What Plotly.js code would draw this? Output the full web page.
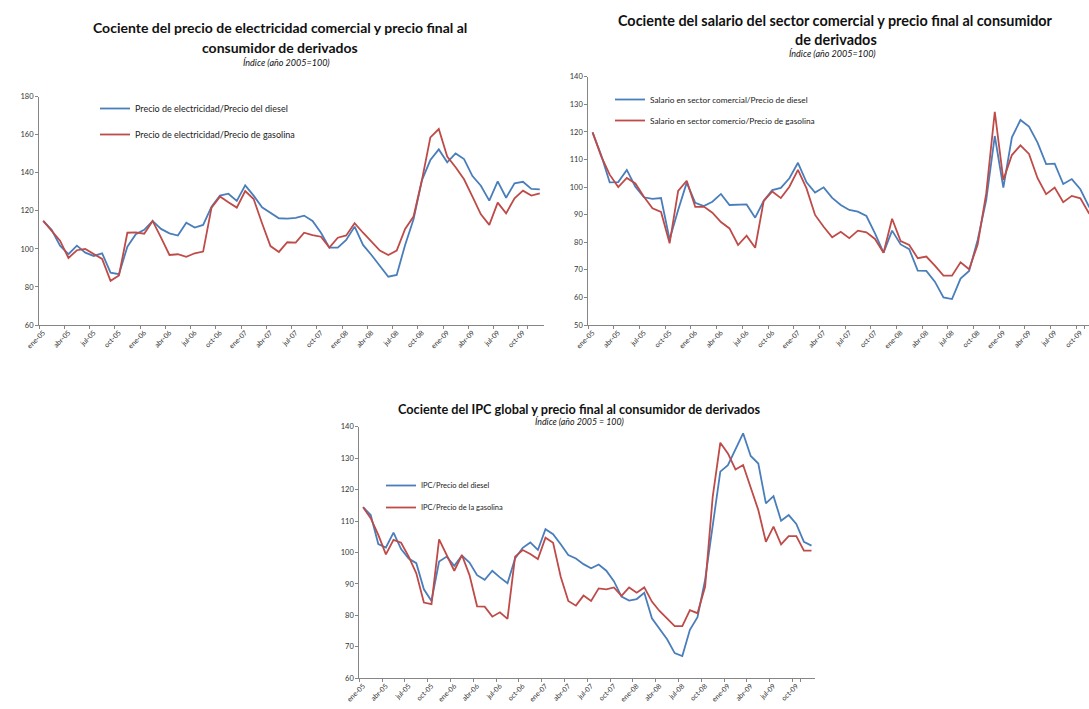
<!DOCTYPE html>
<html>
<head>
<meta charset="utf-8">
<script src="https://cdn.plot.ly/plotly-3.0.1.min.js"></script>
<style>
html,body{margin:0;padding:0;background:#fff;}
#chart{width:1089px;height:709px;}
</style>
</head>
<body>
<div id="chart"></div>
<script>
const months = [
 "ene-05","feb-05","mar-05","abr-05","may-05","jun-05","jul-05","ago-05","sep-05","oct-05","nov-05","dic-05",
 "ene-06","feb-06","mar-06","abr-06","may-06","jun-06","jul-06","ago-06","sep-06","oct-06","nov-06","dic-06",
 "ene-07","feb-07","mar-07","abr-07","may-07","jun-07","jul-07","ago-07","sep-07","oct-07","nov-07","dic-07",
 "ene-08","feb-08","mar-08","abr-08","may-08","jun-08","jul-08","ago-08","sep-08","oct-08","nov-08","dic-08",
 "ene-09","feb-09","mar-09","abr-09","may-09","jun-09","jul-09","ago-09","sep-09","oct-09","nov-09","dic-09"
];
const tickLabels = ["ene-05","abr-05","jul-05","oct-05","ene-06","abr-06","jul-06","oct-06","ene-07","abr-07",
 "jul-07","oct-07","ene-08","abr-08","jul-08","oct-08","ene-09","abr-09","jul-09","oct-09"];

// Chart 1: electricidad comercial
const elecDiesel = [114.7,110,101.7,97.2,101.7,98,96.3,97.7,87.5,86.7,101.2,107.7,
 110,114.7,110.5,108.2,107,113.8,111.2,112.6,122.2,128,129,125.2,
 133.4,128,121.9,119,116.1,115.9,116.3,117.5,114.7,108.5,100.7,100.7,
 104.7,111.7,102.1,96.8,91.2,85.4,86.3,102.1,115.6,136.2,146.7,152.3,
 145.5,150.2,147.2,138.3,133.2,125.4,135.5,126.9,134.5,135.3,131.5,131.3];
const elecGasolina = [114.7,109.4,104.3,95.2,99.3,100,97.3,94.7,83.2,86,108.5,108.7,
 108,114.7,105.9,96.8,97.2,95.8,97.7,98.6,121.7,127.5,124.5,121.7,
 130.4,126.2,113.5,101.5,98.4,103.5,103.3,108.5,107.3,106.4,100.7,105.9,
 107.1,113.5,108.5,103.5,99.1,96.8,99.1,110.5,117,136.2,158.6,163,
 148.5,142.9,136.6,127.5,118.2,112.6,124.3,118.7,126.6,130.6,128,129.2];

// Chart 2: salario sector comercial
const salDiesel = [119.8,111.6,101.7,101.8,106.2,100.1,96.3,95.7,96,81,91.7,101.6,
 94.3,93.1,94.7,97.5,93.5,93.7,93.7,88.9,95,98.9,99.7,103.2,
 108.8,101.7,98,99.9,96.1,93.5,91.7,91.1,89.5,83.2,76.2,84.2,
 79.2,77.5,69.7,69.6,65.7,60,59.4,66.8,69.6,80.8,95.3,118.5,
 99.8,118,124.3,121.9,116.1,108.3,108.5,101.1,102.9,99.2,92.9,88.5];
const salGasolina = [119.8,111.2,104.5,100,103.3,101.3,96.5,92.3,91,79.6,98.6,102.3,
 92.8,92.9,90.7,87.3,85,79,82.4,78,95,98.4,96,100.1,
 106.2,99.5,89.9,85.6,81.8,83.8,81.5,84.2,83.6,81.2,76.2,88.5,
 80.4,79,74.2,74.8,71.5,67.9,67.9,72.7,70.2,79.2,97.7,127.3,
 102.6,111.6,115.1,112,103.2,97.4,99.8,94.5,96.8,95.9,90.5,88];

// Chart 3: IPC global
const ipcDiesel = [114.4,111.9,102.7,101.6,106.3,101.1,98.1,96.6,88.3,84.6,97.1,98.7,
 95.8,99,96.8,92.8,91.3,94.2,92.1,90.2,98.1,101.5,103.2,100.8,
 107.4,105.8,102.6,99.2,98.1,96.3,95,96.2,94.2,90.9,86,84.7,
 85.2,87.2,79.1,75.6,72.4,68,67.1,75.4,79.4,91.3,108.4,125.7,
 127.8,133.1,137.9,130.7,128.3,115.6,117.9,110.1,111.9,109.1,103.4,102.2];
const ipcGasolina = [114.4,110.9,105.6,99.4,104,103.1,98.7,93.4,84.1,83.6,104.2,99.2,
 94.2,99.2,92.8,82.9,82.8,79.6,81,78.9,98.7,100.8,99.5,97.9,
 104.7,103.1,92.3,84.6,83.1,86.3,84.6,88.6,88.3,88.9,86.2,88.9,
 87.2,88.9,84.4,81.4,78.9,76.6,76.6,81.7,80.7,89.1,117.7,134.9,
 131.5,126.4,127.8,120.4,113.5,103.4,108.2,102.6,105.2,105.2,100.6,100.6];

const BLUE = "#4a7ebb", RED = "#be4b48";
const FONT = "Lato, 'Liberation Sans', sans-serif";
const W = 1089, H = 709;
const px = v => v / W, py = v => 1 - v / H;

function tr(y, name, color, xa, ya, leg, grp) {
  return {x: months, y: y, name: name, type: "scatter", mode: "lines",
    line: {color: color, width: 1.8}, xaxis: xa, yaxis: ya, legend: leg,
    legendgroup: grp, showlegend: true};
}

const data = [
  tr(elecDiesel, "Precio de electricidad/Precio del diesel", BLUE, "x", "y", "legend", "a1"),
  tr(elecGasolina, "Precio de electricidad/Precio de gasolina", RED, "x", "y", "legend", "b1"),
  tr(salDiesel, "Salario en sector comercial/Precio de diesel", BLUE, "x2", "y2", "legend2", "a2"),
  tr(salGasolina, "Salario en sector comercio/Precio de gasolina", RED, "x2", "y2", "legend2", "b2"),
  tr(ipcDiesel, "IPC/Precio del diesel", BLUE, "x3", "y3", "legend3", "a3"),
  tr(ipcGasolina, "IPC/Precio de la gasolina", RED, "x3", "y3", "legend3", "b3")
];

function xaxis(domain, anchor, rmax) {
  return {domain: domain, anchor: anchor, type: "category", categoryorder: "array", categoryarray: months,
    range: [-0.5, rmax], tickmode: "array", tickvals: tickLabels, ticktext: tickLabels,
    tickangle: -45, tickson: "boundaries", ticks: "outside", ticklen: 3, tickcolor: "#868686",
    showline: true, linecolor: "#868686", linewidth: 1, showgrid: false, zeroline: false,
    tickfont: {family: FONT, size: 7, color: "#333"}, fixedrange: true};
}
function yaxis(domain, anchor, range, dtick) {
  return {domain: domain, anchor: anchor, range: range, dtick: dtick, tick0: 0, ticks: "outside", ticklen: 3,
    tickcolor: "#868686", showline: true, linecolor: "#868686", linewidth: 1, showgrid: false,
    zeroline: false, tickfont: {family: FONT, size: 7.5, color: "#333"}, fixedrange: true};
}
function legend(x, y, gap, size) {
  return {x: x, y: y, xanchor: "left", yanchor: "top", bgcolor: "rgba(0,0,0,0)",
    font: {family: FONT, size: size, color: "#222"}, traceorder: "grouped", tracegroupgap: gap,
    itemwidth: 30};
}

function title(x, y, text, size, italic) {
  return {xref: "paper", yref: "paper", x: px(x), y: py(y), xanchor: "center", yanchor: "middle",
    text: text, showarrow: false,
    font: {family: FONT, size: size, color: "#111", style: italic ? "italic" : "normal",
      weight: italic ? 400 : 700}};
}

const layout = {
  width: W, height: H, margin: {l: 0, r: 0, t: 0, b: 0},
  paper_bgcolor: "#fff", plot_bgcolor: "#fff", showlegend: true,
  xaxis: xaxis([px(39), px(544)], "y", 59.5),
  yaxis: yaxis([py(325), py(96.7)], "x", [60, 180], 20),
  xaxis2: xaxis([px(588.3), 1], "y2", 58.01),
  yaxis2: yaxis([py(325), py(76.7)], "x2", [50, 140], 10),
  xaxis3: xaxis([px(359.3), px(815.3)], "y3", 59.5),
  yaxis3: yaxis([py(678.3), py(426.7)], "x3", [60, 140], 10),
  legend: legend(px(95), py(94), 7, 9),
  legend2: legend(px(610), py(85), 2, 8.3),
  legend3: legend(px(381), py(471), 3, 7.5),
  annotations: [
    title(280, 27, "Cociente del precio de electricidad comercial y precio final al", 14),
    title(280, 47, "consumidor de derivados", 14),
    title(286, 63, "Índice (año 2005=100)", 9, true),
    title(836, 21, "Cociente del salario del sector comercial y precio final al consumidor", 14.4),
    title(836, 39, "de derivados", 14.4),
    title(832, 54, "Índice (año 2005=100)", 9, true),
    title(579, 409, "Cociente del IPC global y precio final al consumidor de derivados", 12.7),
    title(579, 421, "Índice (año 2005 = 100)", 8.8, true)
  ]
};

Plotly.newPlot("chart", data, layout, {displayModeBar: false, staticPlot: true});
</script>
</body>
</html>
